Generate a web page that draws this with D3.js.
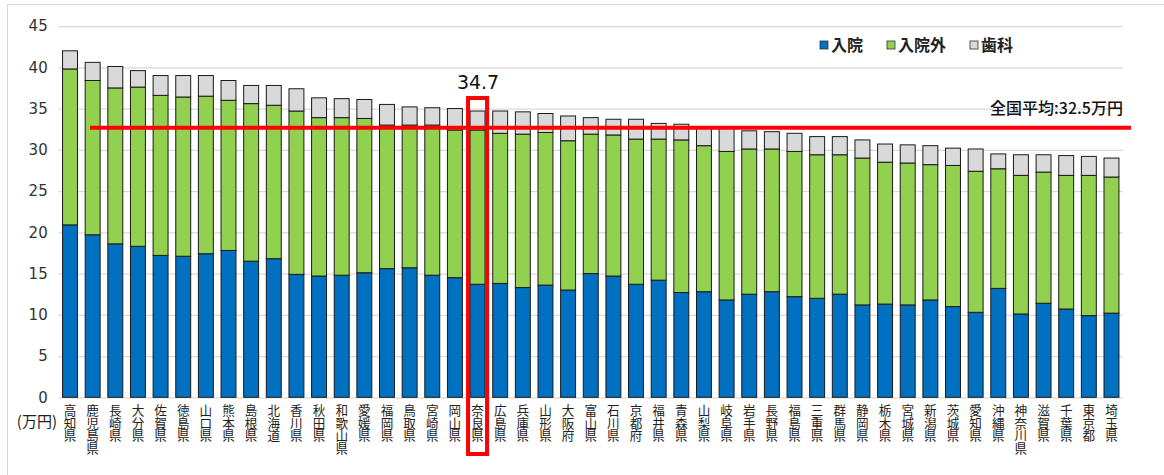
<!DOCTYPE html>
<html lang="ja">
<head>
<meta charset="utf-8">
<script src="https://cdn.jsdelivr.net/npm/d3@7"></script>
<style>
  html, body { margin: 0; padding: 0; background: #fff; }
  svg { display: block; font-family: "Noto Sans CJK JP", "Noto Sans", sans-serif; }
  .cat { writing-mode: vertical-rl; text-orientation: upright; }
</style>
</head>
<body>
<svg id="chart" width="1164" height="475"></svg>
<script>
// 都道府県別 一人当たり医療費（万円）
const prefectures = ["高知県","鹿児島県","長崎県","大分県","佐賀県","徳島県","山口県","熊本県","島根県","北海道","香川県","秋田県","和歌山県","愛媛県","福岡県","鳥取県","宮崎県","岡山県","奈良県","広島県","兵庫県","山形県","大阪府","富山県","石川県","京都府","福井県","青森県","山梨県","岐阜県","岩手県","長野県","福島県","三重県","群馬県","静岡県","栃木県","宮城県","新潟県","茨城県","愛知県","沖縄県","神奈川県","滋賀県","千葉県","東京都","埼玉県"];

const inpatient = [20.9,19.7,18.6,18.3,17.2,17.1,17.4,17.8,16.5,16.8,14.9,14.7,14.8,15.1,15.6,15.7,14.8,14.5,13.7,13.8,13.3,13.6,13.0,15.0,14.7,13.7,14.2,12.7,12.8,11.8,12.5,12.8,12.2,12.0,12.5,11.2,11.3,11.2,11.8,11.0,10.3,13.2,10.1,11.4,10.7,9.9,10.2];

const outpatient = [18.9,18.7,18.9,19.3,19.4,19.3,19.1,18.2,19.1,18.6,19.8,19.2,19.1,18.7,17.4,17.3,18.2,17.9,18.7,18.2,18.6,18.5,18.1,16.9,17.1,17.6,17.1,18.5,17.7,18.0,17.6,17.3,17.6,17.4,16.9,17.8,17.2,17.2,16.4,17.1,17.1,14.5,16.8,15.9,16.2,17.0,16.5];

const dental = [2.2,2.2,2.6,2.0,2.4,2.6,2.5,2.4,2.2,2.4,2.7,2.4,2.3,2.3,2.5,2.2,2.1,2.6,2.3,2.7,2.7,2.3,3.0,2.0,1.9,2.4,1.9,1.9,2.2,2.8,2.2,2.1,2.2,2.2,2.2,2.2,2.2,2.2,2.3,2.1,2.7,1.8,2.5,2.1,2.4,2.3,2.3];

const seriesNames = ["入院", "入院外", "歯科"];
const seriesKeys = ["inpatient", "outpatient", "dental"];
const seriesColors = ["#0070C0", "#92D050", "#D9D9D9"];

const yTicks = [0,5,10,15,20,25,30,35,40,45];
const nationalAverage = 32.5;
const highlighted = "奈良県";

const rows = prefectures.map((p, i) => ({
  name: p, inpatient: inpatient[i], outpatient: outpatient[i], dental: dental[i]
}));

const svg = d3.select("#chart");
const W = 1164, H = 475;

// outer frame
svg.append("rect")
  .attr("x", 7.5).attr("y", 4.5)
  .attr("width", W + 20).attr("height", H + 20)
  .attr("fill", "#fff").attr("stroke", "#d9d9d9");

const plot = { left: 58.7, right: 1122.8, top: 26, bottom: 397.3 };

const x = d3.scaleBand()
  .domain(prefectures)
  .range([plot.left, plot.right])
  .paddingInner(0.34).paddingOuter(0.17);

const y = d3.scaleLinear().domain([0, 45]).range([plot.bottom, plot.bottom - 45 * 8.25]);

// horizontal gridlines + tick labels
const yAxis = d3.axisLeft(y).tickValues(yTicks).tickSize(-(plot.right - plot.left)).tickPadding(11);
const gy = svg.append("g").attr("transform", `translate(${plot.left},0)`).call(yAxis);
gy.select(".domain").remove();
gy.selectAll(".tick line").attr("stroke", "#d9d9d9").attr("stroke-width", 1.3);
gy.selectAll(".tick text")
  .attr("font-size", 15).attr("fill", "#333")
  .attr("font-family", "'DejaVu Sans', sans-serif");

// stacked bars
const stack = d3.stack().keys(seriesKeys)(rows);
const layers = svg.append("g").selectAll("g")
  .data(stack).join("g")
  .attr("fill", (d, i) => seriesColors[i]);

layers.selectAll("rect")
  .data(d => d)
  .join("rect")
  .attr("x", d => x(d.data.name))
  .attr("width", x.bandwidth())
  .attr("y", d => y(d[1]))
  .attr("height", d => y(d[0]) - y(d[1]))
  .attr("stroke", "#1a1a1a")
  .attr("stroke-width", 1);

// category labels, set vertically
svg.append("g").selectAll("text")
  .data(prefectures)
  .join("text")
  .attr("class", "cat")
  .attr("x", d => x(d) + x.bandwidth() / 2)
  .attr("y", 404)
  .attr("font-size", 12.6)
  .attr("fill", "#222")
  .text(d => d);

// unit label
svg.append("text")
  .attr("x", 57).attr("y", 427)
  .attr("text-anchor", "end")
  .attr("font-size", 15).attr("fill", "#222")
  .text("(万円)");

// national average line
svg.append("line")
  .attr("x1", 90).attr("x2", 1131)
  .attr("y1", y(nationalAverage) - 1.5).attr("y2", y(nationalAverage) - 1.5)
  .attr("stroke", "#ff0000").attr("stroke-width", 4);

svg.append("text")
  .attr("x", 1123).attr("y", 114)
  .attr("text-anchor", "end")
  .attr("font-size", 16).attr("font-weight", 500).attr("fill", "#111")
  .text("全国平均:" + nationalAverage + "万円");

// highlighted prefecture
const hi = rows.find(r => r.name === highlighted);
const hiTotal = hi.inpatient + hi.outpatient + hi.dental;
const hx = x(highlighted) + x.bandwidth() / 2;
svg.append("rect")
  .attr("x", hx - 9.5).attr("width", 19)
  .attr("y", y(hiTotal) - 13).attr("height", 454 - (y(hiTotal) - 13))
  .attr("fill", "none").attr("stroke", "#ff0000").attr("stroke-width", 4);

svg.append("text")
  .attr("x", hx + 0.5).attr("y", 89)
  .attr("text-anchor", "middle")
  .attr("font-size", 19).attr("font-weight", 500).attr("fill", "#111")
  .attr("font-family", "'DejaVu Sans', sans-serif")
  .text(d3.format(".1f")(hiTotal));

// legend
const legendX = [820, 887, 970];
const legend = svg.append("g");
seriesNames.forEach((name, i) => {
  legend.append("rect")
    .attr("x", legendX[i]).attr("y", 41)
    .attr("width", 8).attr("height", 8)
    .attr("fill", seriesColors[i]).attr("stroke", "#333").attr("stroke-width", 0.8);
  legend.append("text")
    .attr("x", legendX[i] + 11).attr("y", 51)
    .attr("font-size", 16).attr("font-weight", 700).attr("fill", "#222")
    .text(name);
});
</script>
</body>
</html>
